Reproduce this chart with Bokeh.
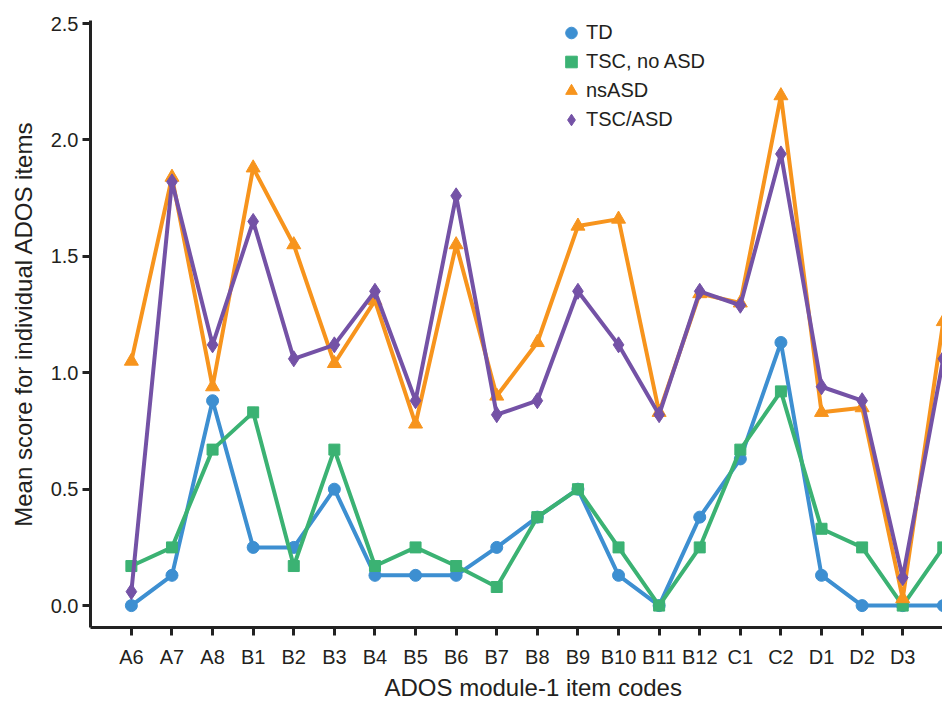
from bokeh.plotting import figure
from bokeh.models import FixedTicker, Legend, LegendItem, NumeralTickFormatter, Title
from bokeh.embed import file_html
from bokeh.resources import INLINE

items = ["A6", "A7", "A8", "B1", "B2", "B3", "B4", "B5", "B6", "B7", "B8",
         "B9", "B10", "B11", "B12", "C1", "C2", "D1", "D2", "D3", "D4"]
td = [0.00, 0.13, 0.88, 0.25, 0.25, 0.50, 0.13, 0.13, 0.13, 0.25, 0.38,
      0.50, 0.13, 0.00, 0.38, 0.63, 1.13, 0.13, 0.00, 0.00, 0.00]
tsc_no_asd = [0.17, 0.25, 0.67, 0.83, 0.17, 0.67, 0.17, 0.25, 0.17, 0.08, 0.38,
              0.50, 0.25, 0.00, 0.25, 0.67, 0.92, 0.33, 0.25, 0.00, 0.25]
ns_asd = [1.05, 1.84, 0.94, 1.88, 1.55, 1.04, 1.31, 0.78, 1.55, 0.90, 1.13,
          1.63, 1.66, 0.83, 1.34, 1.30, 2.19, 0.83, 0.85, 0.03, 1.22]
tsc_asd = [0.06, 1.82, 1.12, 1.65, 1.06, 1.12, 1.35, 0.88, 1.76, 0.82, 0.88,
           1.35, 1.12, 0.82, 1.35, 1.29, 1.94, 0.94, 0.88, 0.12, 1.06]
y_ticks = [0.0, 0.5, 1.0, 1.5, 2.0, 2.5]

xs = list(range(len(items)))
FONT = "Liberation Sans"
TXT = "#231f20"

p = figure(width=942, height=705, output_backend="svg", toolbar_location=None,
           x_range=(-1.007, 19.98), y_range=(-0.094, 2.513),
           min_border_left=90, min_border_right=0, min_border_top=20,
           min_border_bottom=78)
p.outline_line_color = None
p.xgrid.visible = False
p.ygrid.visible = False

series = [
    ("TD", td, "#3d8fd1", "circle", 12),
    ("TSC, no ASD", tsc_no_asd, "#3bb273", "square", 11),
    ("nsASD", ns_asd, "#f7941d", "triangle", 14),
    ("TSC/ASD", tsc_asd, "#7452a6", "diamond", 16),
]
legend_items = []
for name, vals, col, mk, sz in series:
    p.line(xs, vals, line_color=col, line_width=4)
    r = p.scatter(xs, vals, marker=mk, size=sz, fill_color=col, line_color=col)
    legend_items.append(LegendItem(label=name, renderers=[r]))

legend = Legend(items=legend_items, location=(466, 493),
                label_text_font=FONT, label_text_font_size="20px",
                label_text_color=TXT, glyph_height=29, glyph_width=30,
                label_height=29, spacing=0, padding=0, margin=0,
                label_standoff=0, border_line_color=None,
                background_fill_alpha=0)
p.add_layout(legend)

for ax in (p.xaxis[0], p.yaxis[0]):
    ax.axis_line_width = 3
    ax.axis_line_color = "#222222"
    ax.major_tick_line_width = 3
    ax.major_tick_line_color = "#222222"
    ax.major_tick_in = 0
    ax.major_tick_out = 8
    ax.minor_tick_line_color = None
    ax.major_label_text_font = FONT
    ax.major_label_text_font_size = "20px"
    ax.major_label_text_color = TXT
    ax.axis_label_text_font = FONT
    ax.axis_label_text_font_size = "24px"
    ax.axis_label_text_font_style = "normal"
    ax.axis_label_text_color = TXT

p.xaxis.ticker = FixedTicker(ticks=xs)
p.xaxis.major_label_overrides = {i: s for i, s in enumerate(items)}
p.xaxis.major_label_standoff = 10

# x-axis title, placed where the original (wider, cropped) frame had its centre
p.add_layout(Title(text="ADOS module-1 item codes", align="left", offset=294,
                   vertical_align="top", text_font=FONT, text_font_size="24px",
                   text_font_style="normal", text_color=TXT, standoff=6), "below")

p.yaxis.ticker = FixedTicker(ticks=y_ticks)
p.yaxis.formatter = NumeralTickFormatter(format="0.0")
p.yaxis.major_label_standoff = 4
p.yaxis.axis_label = "Mean score for individual ADOS items"
p.yaxis.axis_label_standoff = 11

open("out.html", "w").write(file_html(p, INLINE))
